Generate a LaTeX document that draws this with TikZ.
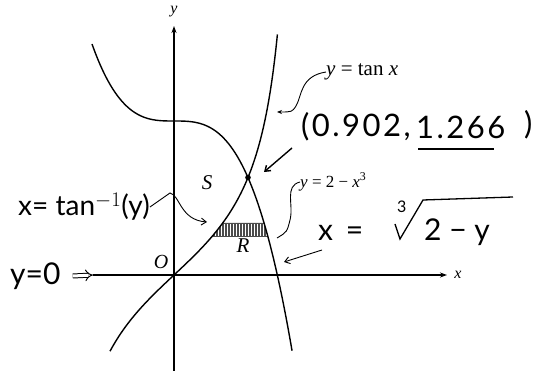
\documentclass[tikz,border=0pt]{standalone}
\usepackage{fontspec}
\setmainfont{Liberation Serif}
\newfontfamily\hand{Lato}
\newfontfamily\handw[LetterSpace=8]{Lato}
\usetikzlibrary{arrows.meta}
\newcommand{\iv}[1]{\textit{#1}}
\begin{document}
\begin{tikzpicture}[x=1pt,y=-1pt,
  ax/.style={line width=1.5pt},
  cur/.style={line width=1.4pt},
  conn/.style={line width=0.9pt},
  hw/.style={font=\hand\fontsize{28}{28}\selectfont, inner sep=0pt},
  hwc/.style={font=\handw\fontsize{31}{31}\selectfont, inner sep=0pt, anchor=west},
  pr/.style={font=\fontsize{16}{16}\selectfont, inner sep=0pt},
  barb/.style={-{Straight Barb[length=5pt,width=7pt]}}]
\useasboundingbox (0,0) rectangle (541,371);
% axes
\coordinate (xl) at (93,275);
\coordinate (xr) at (447,275);
\coordinate (yb) at (174,371);
\coordinate (yt) at (174,26);
\draw[ax,-{Stealth[length=7pt,width=5pt]}] (xl) -- (xr);
\draw[ax,-{Stealth[length=7pt,width=5pt]}] (yb) -- (yt);
\node[pr] (xlab) at (458,275) {\iv{x}};
\node[pr] (ylab) at (174,12) {\iv{y}};
\node[pr,font=\fontsize{20}{20}\selectfont] (olab) at (161,262) {\iv{O}};
% shaded strip
\fill[black!70] (212,237) -- (223,223) -- (264,223) -- (268,237) -- cycle;
\foreach \i in {0,...,17} {\draw[white,line width=0.4pt] (215+3*\i,224) -- (215+3*\i,236);}
% curves
\draw[cur] plot[domain=-0.78:1.262,samples=120] ({174+82*\x},{275-77*tan(\x r)});
\draw[cur] plot[domain=-1.0:1.44,samples=100] ({174+82*\x},{275-77*(2-\x*\x*\x)});
\coordinate (P) at (248,177.5);
\fill (P) circle (2.8);
\node[font=\itshape\fontsize{21}{21}\selectfont] (S) at (207,183) {S};
\node[font=\itshape\fontsize{21}{21}\selectfont] (R) at (243,246) {R};
% printed labels
\node[pr,anchor=west,font=\fontsize{21}{21}\selectfont] (tanlbl) at (326,72) {\iv{y} = tan \iv{x}};
\node[pr,anchor=west,font=\fontsize{17}{17}\selectfont] (cublbl) at (300,182) {\iv{y} = 2 − \iv{x}\textsuperscript{3}};
\coordinate (tanpt) at (277,112);
\draw[conn,-{Stealth[length=5pt,width=4pt]}] (tanlbl.west) .. controls (300,76) and (302,96) .. (296,106) .. controls (292,112) .. (tanpt);
\coordinate (cubpt) at (277,238);
\draw[conn] (cublbl.west) .. controls (284,186) and (294,205) .. (290,220) .. controls (287,232) .. (cubpt);
% handwritten
\node[hwc] (pt1) at (301,127) {(0.902,};
\node[hwc] (pt2) at (416,127) {1.266};
\node[hwc] (pt3) at (524,125) {)};
\coordinate (ul1) at (418,149);
\coordinate (ul2) at (494,149);
\draw[line width=1.3pt] (ul1) -- (ul2);
\coordinate (a1) at (292,148);
\draw[line width=1.4pt,barb] (a1) -- (264,172);
\node[hw,anchor=west] (invlbl) at (18,207) {x= tan$^{-1}$(y)};
\coordinate (invpt) at (207,222);
\draw[conn,barb] (invlbl.east) -- (170,193) .. controls (180,195) and (180,220) .. (invpt);
\node[hw,anchor=west,font=\hand\fontsize{30}{30}\selectfont] (xeq) at (318,233) {x\,\ =};
\node[hw,anchor=west,font=\hand\fontsize{16}{16}\selectfont] (three) at (397,207) {3};
\node[hw,anchor=west,font=\hand\fontsize{30}{30}\selectfont] (twoy) at (424,232) {2 − y};
\draw[line width=1.3pt] (395,224) -- (400,239) -- (423,200) -- (513,197);
\coordinate (cubx) at (284,262);
\coordinate (xs) at (322,250);
\draw[conn,barb] (xs) -- (cubx);
\node[hw,anchor=west,font=\hand\fontsize{30}{30}\selectfont] (y0) at (10,276) {y=0};
\draw[line width=1pt,double distance=3pt,-{Implies}] (y0.east) ++(12,0) -- (xl);
\end{tikzpicture}
\end{document}
